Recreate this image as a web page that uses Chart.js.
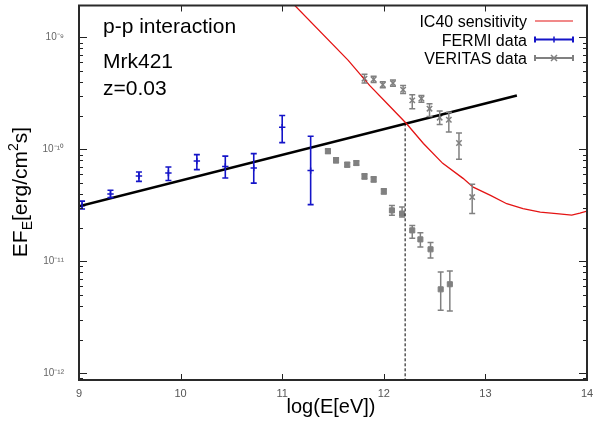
<!DOCTYPE html>
<html>
<head>
<meta charset="utf-8">
<script src="https://cdn.jsdelivr.net/npm/chart.js@4.4.0/dist/chart.umd.min.js"></script>
<style>
  html, body { margin: 0; padding: 0; background: #fff; }
  canvas { display: block; }
</style>
</head>
<body>
<canvas id="sed" width="600" height="423"></canvas>
<script>
// x: log10(E / eV), y: E*F_E in erg/cm^2/s
const fermiLogE = [9.03, 9.31, 9.59, 9.88, 10.16, 10.44, 10.72, 11.0, 11.28];
const fermiFlux = [3.14e-11, 3.99e-11, 5.78e-11, 6.14e-11, 7.87e-11, 7.05e-11, 6.81e-11, 1.58e-10, 6.46e-11];
const fermiLo   = [2.93e-11, 3.71e-11, 5.18e-11, 5.28e-11, 6.59e-11, 5.55e-11, 5.0e-11, 1.15e-10, 3.21e-11];
const fermiHi   = [3.45e-11, 4.31e-11, 6.27e-11, 6.95e-11, 8.97e-11, 8.71e-11, 9.16e-11, 2.01e-10, 1.31e-10];

// VERITAS, high state
const veritasHighLogE = [11.81, 11.90, 11.99, 12.09, 12.19, 12.28, 12.37, 12.45, 12.55, 12.64, 12.74, 12.87];
const veritasHighFlux = [4.28e-10, 4.22e-10, 3.78e-10, 3.91e-10, 3.41e-10, 2.74e-10, 2.84e-10, 2.31e-10, 1.92e-10, 1.84e-10, 1.14e-10, 3.75e-11];
const veritasHighLo   = [3.91e-10, 3.95e-10, 3.55e-10, 3.67e-10, 3.16e-10, 2.31e-10, 2.64e-10, 1.97e-10, 1.67e-10, 1.43e-10, 8.15e-11, 2.67e-11];
const veritasHighHi   = [4.68e-10, 4.50e-10, 4.03e-10, 4.17e-10, 3.72e-10, 3.08e-10, 3.03e-10, 2.56e-10, 2.20e-10, 2.15e-10, 1.40e-10, 4.87e-11];

// VERITAS, low state
const veritasLowLogE = [11.45, 11.53, 11.64, 11.73, 11.81, 11.90, 12.0, 12.08, 12.18, 12.28, 12.36, 12.46, 12.56, 12.65];
const veritasLowFlux = [9.66e-11, 7.98e-11, 7.3e-11, 7.55e-11, 5.74e-11, 5.4e-11, 4.22e-11, 2.85e-11, 2.67e-11, 1.89e-11, 1.57e-11, 1.28e-11, 5.62e-12, 6.24e-12];
const veritasLowLo   = [9.2e-11, 7.6e-11, 6.95e-11, 7.2e-11, 5.45e-11, 5.1e-11, 4.0e-11, 2.58e-11, 2.49e-11, 1.61e-11, 1.34e-11, 1.07e-11, 3.65e-12, 3.6e-12];
const veritasLowHi   = [1.01e-10, 8.4e-11, 7.65e-11, 7.9e-11, 6.05e-11, 5.7e-11, 4.45e-11, 3.16e-11, 3.05e-11, 2.09e-11, 1.8e-11, 1.47e-11, 8.02e-12, 8.18e-12];

// IceCube IC40 sensitivity curve
const ic40LogE = [10.98, 11.65, 11.86, 12.03, 12.22, 12.39, 12.58, 12.78, 12.88, 13.05, 13.21, 13.37, 13.54, 13.70, 13.85, 13.93, 14.0];
const ic40Flux = [2.63e-9, 6.24e-10, 3.73e-10, 2.58e-10, 1.71e-10, 1.13e-10, 7.5e-11, 5.51e-11, 4.6e-11, 3.88e-11, 3.27e-11, 2.96e-11, 2.75e-11, 2.67e-11, 2.59e-11, 2.7e-11, 2.81e-11];

// p-p model power law and the crossing with IC40
const modelLogE = [9.0, 13.31];
const modelFlux = [3.1e-11, 3.03e-10];
const crossLogE = 12.21;
const crossFlux = 1.71e-10;

const xTicks = [9, 10, 11, 12, 13, 14];
const yDecades = [-12, -11, -10, -9];
const annotations = ['p-p interaction', 'Mrk421', 'z=0.03'];

const X_MIN = 9, X_MAX = 14, Y_MIN = 8.7e-13, Y_MAX = 1.93e-9;
const RED = 'rgb(228,20,20)', BLUE = '#1414c8', GREY = '#808080';
const FONT = "'Liberation Sans', Arial, sans-serif";

const pts = (xs, ys) => xs.map((x, i) => ({ x, y: ys[i] }));
const sup = { '-': '\u207B', '0': '\u2070', '1': '\u00B9', '2': '\u00B2', '3': '\u00B3', '4': '\u2074',
              '5': '\u2075', '6': '\u2076', '7': '\u2077', '8': '\u2078', '9': '\u2079' };

const errorBars = {
  id: 'errorBars',
  afterDatasetsDraw(chart) {
    const { ctx, chartArea: a, scales } = chart;
    ctx.save();
    ctx.beginPath();
    ctx.rect(a.left, a.top, a.width, a.height);
    ctx.clip();
    chart.data.datasets.forEach((ds, di) => {
      if (!ds.errLo) return;
      const meta = chart.getDatasetMeta(di);
      ctx.strokeStyle = ds.borderColor;
      ctx.lineWidth = ds.errWidth;
      meta.data.forEach((pt, i) => {
        const lo = scales.y.getPixelForValue(ds.errLo[i]);
        const hi = scales.y.getPixelForValue(ds.errHi[i]);
        ctx.beginPath();
        ctx.moveTo(pt.x, lo); ctx.lineTo(pt.x, hi);
        ctx.moveTo(pt.x - 3, lo); ctx.lineTo(pt.x + 3, lo);
        ctx.moveTo(pt.x - 3, hi); ctx.lineTo(pt.x + 3, hi);
        ctx.stroke();
      });
    });
    ctx.restore();
  }
};

// gnuplot style frame with inward ticks
const frame = {
  id: 'frame',
  afterDraw(chart) {
    const { ctx, chartArea: a, scales: { x, y } } = chart;
    ctx.save();
    ctx.strokeStyle = '#222';
    ctx.lineWidth = 1;
    ctx.beginPath();
    for (let e = -13; e <= -9; e++) {
      for (let m = 1; m < 10; m++) {
        const v = m * Math.pow(10, e);
        if (v < Y_MIN || v > Y_MAX) continue;
        const py = Math.round(y.getPixelForValue(v)) + 0.5;
        const len = m === 1 ? 8 : 4;
        ctx.moveTo(a.left, py); ctx.lineTo(a.left + len, py);
        ctx.moveTo(a.right, py); ctx.lineTo(a.right - len, py);
      }
    }
    xTicks.forEach(t => {
      const px = Math.round(x.getPixelForValue(t)) + 0.5;
      ctx.moveTo(px, a.bottom); ctx.lineTo(px, a.bottom - 6);
      ctx.moveTo(px, a.top); ctx.lineTo(px, a.top + 6);
    });
    ctx.stroke();
    ctx.lineWidth = 2;
    ctx.strokeStyle = '#2a2a2a';
    ctx.strokeRect(a.left, a.top, a.width, a.height);
    ctx.restore();
  }
};

const texts = {
  id: 'texts',
  afterDraw(chart) {
    const { ctx } = chart;
    ctx.save();
    ctx.fillStyle = '#000';

    // annotations top-left
    ctx.font = '21px ' + FONT;
    ctx.textAlign = 'left';
    ctx.textBaseline = 'alphabetic';
    ctx.fillText(annotations[0], 103, 33);
    ctx.fillText(annotations[1], 103, 68);
    ctx.fillText(annotations[2], 103, 95);

    // x title
    ctx.font = '20px ' + FONT;
    ctx.textAlign = 'center';
    ctx.fillText('log(E[eV])', 331, 413);

    // y title with sub/superscript
    const parts = [['EF', 21, 0], ['E', 14, 5], ['[erg/cm', 21, 0], ['2', 14, -9], ['s]', 21, 0]];
    let total = 0;
    parts.forEach(p => { ctx.font = p[1] + 'px ' + FONT; p.push(ctx.measureText(p[0]).width); total += p[3]; });
    ctx.translate(27, 192);
    ctx.rotate(-Math.PI / 2);
    ctx.textAlign = 'left';
    let cx = -total / 2;
    parts.forEach(p => {
      ctx.font = p[1] + 'px ' + FONT;
      ctx.fillText(p[0], cx, p[2]);
      cx += p[3];
    });
    ctx.restore();

    // legend, top right, text right-aligned with the sample after it
    ctx.save();
    ctx.font = '16px ' + FONT;
    ctx.textAlign = 'right';
    ctx.textBaseline = 'alphabetic';
    const rows = chart.data.datasets.filter(d => d.legend);
    rows.forEach((ds, i) => {
      const by = 27 + i * 18.5;
      const my = by - 6;
      ctx.fillStyle = '#000';
      ctx.fillText(ds.label, 527, by);
      ctx.strokeStyle = ds.borderColor;
      ctx.lineWidth = ds.legend === 'line' ? 1.2 : 2;
      ctx.beginPath();
      ctx.moveTo(535, my); ctx.lineTo(573, my);
      if (ds.legend !== 'line') {
        ctx.moveTo(535, my - 3); ctx.lineTo(535, my + 3);
        ctx.moveTo(573, my - 3); ctx.lineTo(573, my + 3);
      }
      ctx.stroke();
      if (ds.legend === 'plus') {
        ctx.lineWidth = 1.5;
        ctx.beginPath();
        ctx.moveTo(554, my - 3); ctx.lineTo(554, my + 3);
        ctx.stroke();
      } else if (ds.legend === 'x') {
        ctx.lineWidth = 1.5;
        ctx.beginPath();
        ctx.moveTo(551, my - 3); ctx.lineTo(557, my + 3);
        ctx.moveTo(551, my + 3); ctx.lineTo(557, my - 3);
        ctx.stroke();
      }
    });
    ctx.restore();
  }
};

Chart.defaults.font.family = FONT;

new Chart(document.getElementById('sed'), {
  type: 'scatter',
  data: {
    datasets: [
      {
        type: 'line', label: 'IC40 sensitivity', legend: 'line',
        data: pts(ic40LogE, ic40Flux),
        borderColor: RED, borderWidth: 1.3, pointRadius: 0, tension: 0, fill: false
      },
      {
        type: 'line', label: 'p-p model',
        data: pts(modelLogE, modelFlux),
        borderColor: '#000', borderWidth: 2.6, pointRadius: 0, tension: 0, fill: false
      },
      {
        type: 'line', label: 'threshold',
        data: [{ x: crossLogE, y: crossFlux }, { x: crossLogE, y: Y_MIN }],
        borderColor: '#000', borderWidth: 1, borderDash: [3, 2], pointRadius: 0, fill: false
      },
      {
        label: 'FERMI data', legend: 'plus',
        data: pts(fermiLogE, fermiFlux),
        errLo: fermiLo, errHi: fermiHi, errWidth: 1.6,
        borderColor: BLUE, backgroundColor: BLUE,
        pointStyle: 'cross', pointRadius: 3.2, borderWidth: 1.5
      },
      {
        label: 'VERITAS data', legend: 'x',
        data: pts(veritasHighLogE, veritasHighFlux),
        errLo: veritasHighLo, errHi: veritasHighHi, errWidth: 1.5,
        borderColor: GREY, backgroundColor: GREY,
        pointStyle: 'crossRot', pointRadius: 3.8, borderWidth: 1.5
      },
      {
        label: 'VERITAS low',
        data: pts(veritasLowLogE, veritasLowFlux),
        errLo: veritasLowLo, errHi: veritasLowHi, errWidth: 1.5,
        borderColor: GREY, backgroundColor: GREY,
        pointStyle: 'rect', pointRadius: 3.6, borderWidth: 1
      }
    ]
  },
  options: {
    responsive: false,
    maintainAspectRatio: false,
    animation: false,
    layout: { padding: { left: 0, right: 13, top: 5, bottom: 0 } },
    plugins: { legend: { display: false }, tooltip: { enabled: false } },
    scales: {
      x: {
        type: 'linear', min: X_MIN, max: X_MAX,
        afterBuildTicks: s => { s.ticks = xTicks.map(v => ({ value: v })); },
        afterFit: s => { s.height = 43; s.paddingLeft = 0; s.paddingRight = 0; },
        grid: { display: false, drawTicks: false },
        border: { display: false },
        ticks: { color: '#555', font: { size: 11 }, padding: 7, maxRotation: 0 }
      },
      y: {
        type: 'logarithmic', min: Y_MIN, max: Y_MAX,
        afterBuildTicks: s => { s.ticks = yDecades.map(e => ({ value: Math.pow(10, e) })); },
        afterFit: s => { s.width = 79; s.paddingTop = 0; s.paddingBottom = 0; },
        grid: { display: false, drawTicks: false },
        border: { display: false },
        ticks: {
          color: '#666', font: { size: 10 }, padding: 15,
          callback: v => '10' + String(Math.round(Math.log10(v))).split('').map(c => sup[c]).join('')
        }
      }
    }
  },
  plugins: [errorBars, frame, texts]
});
</script>
</body>
</html>
